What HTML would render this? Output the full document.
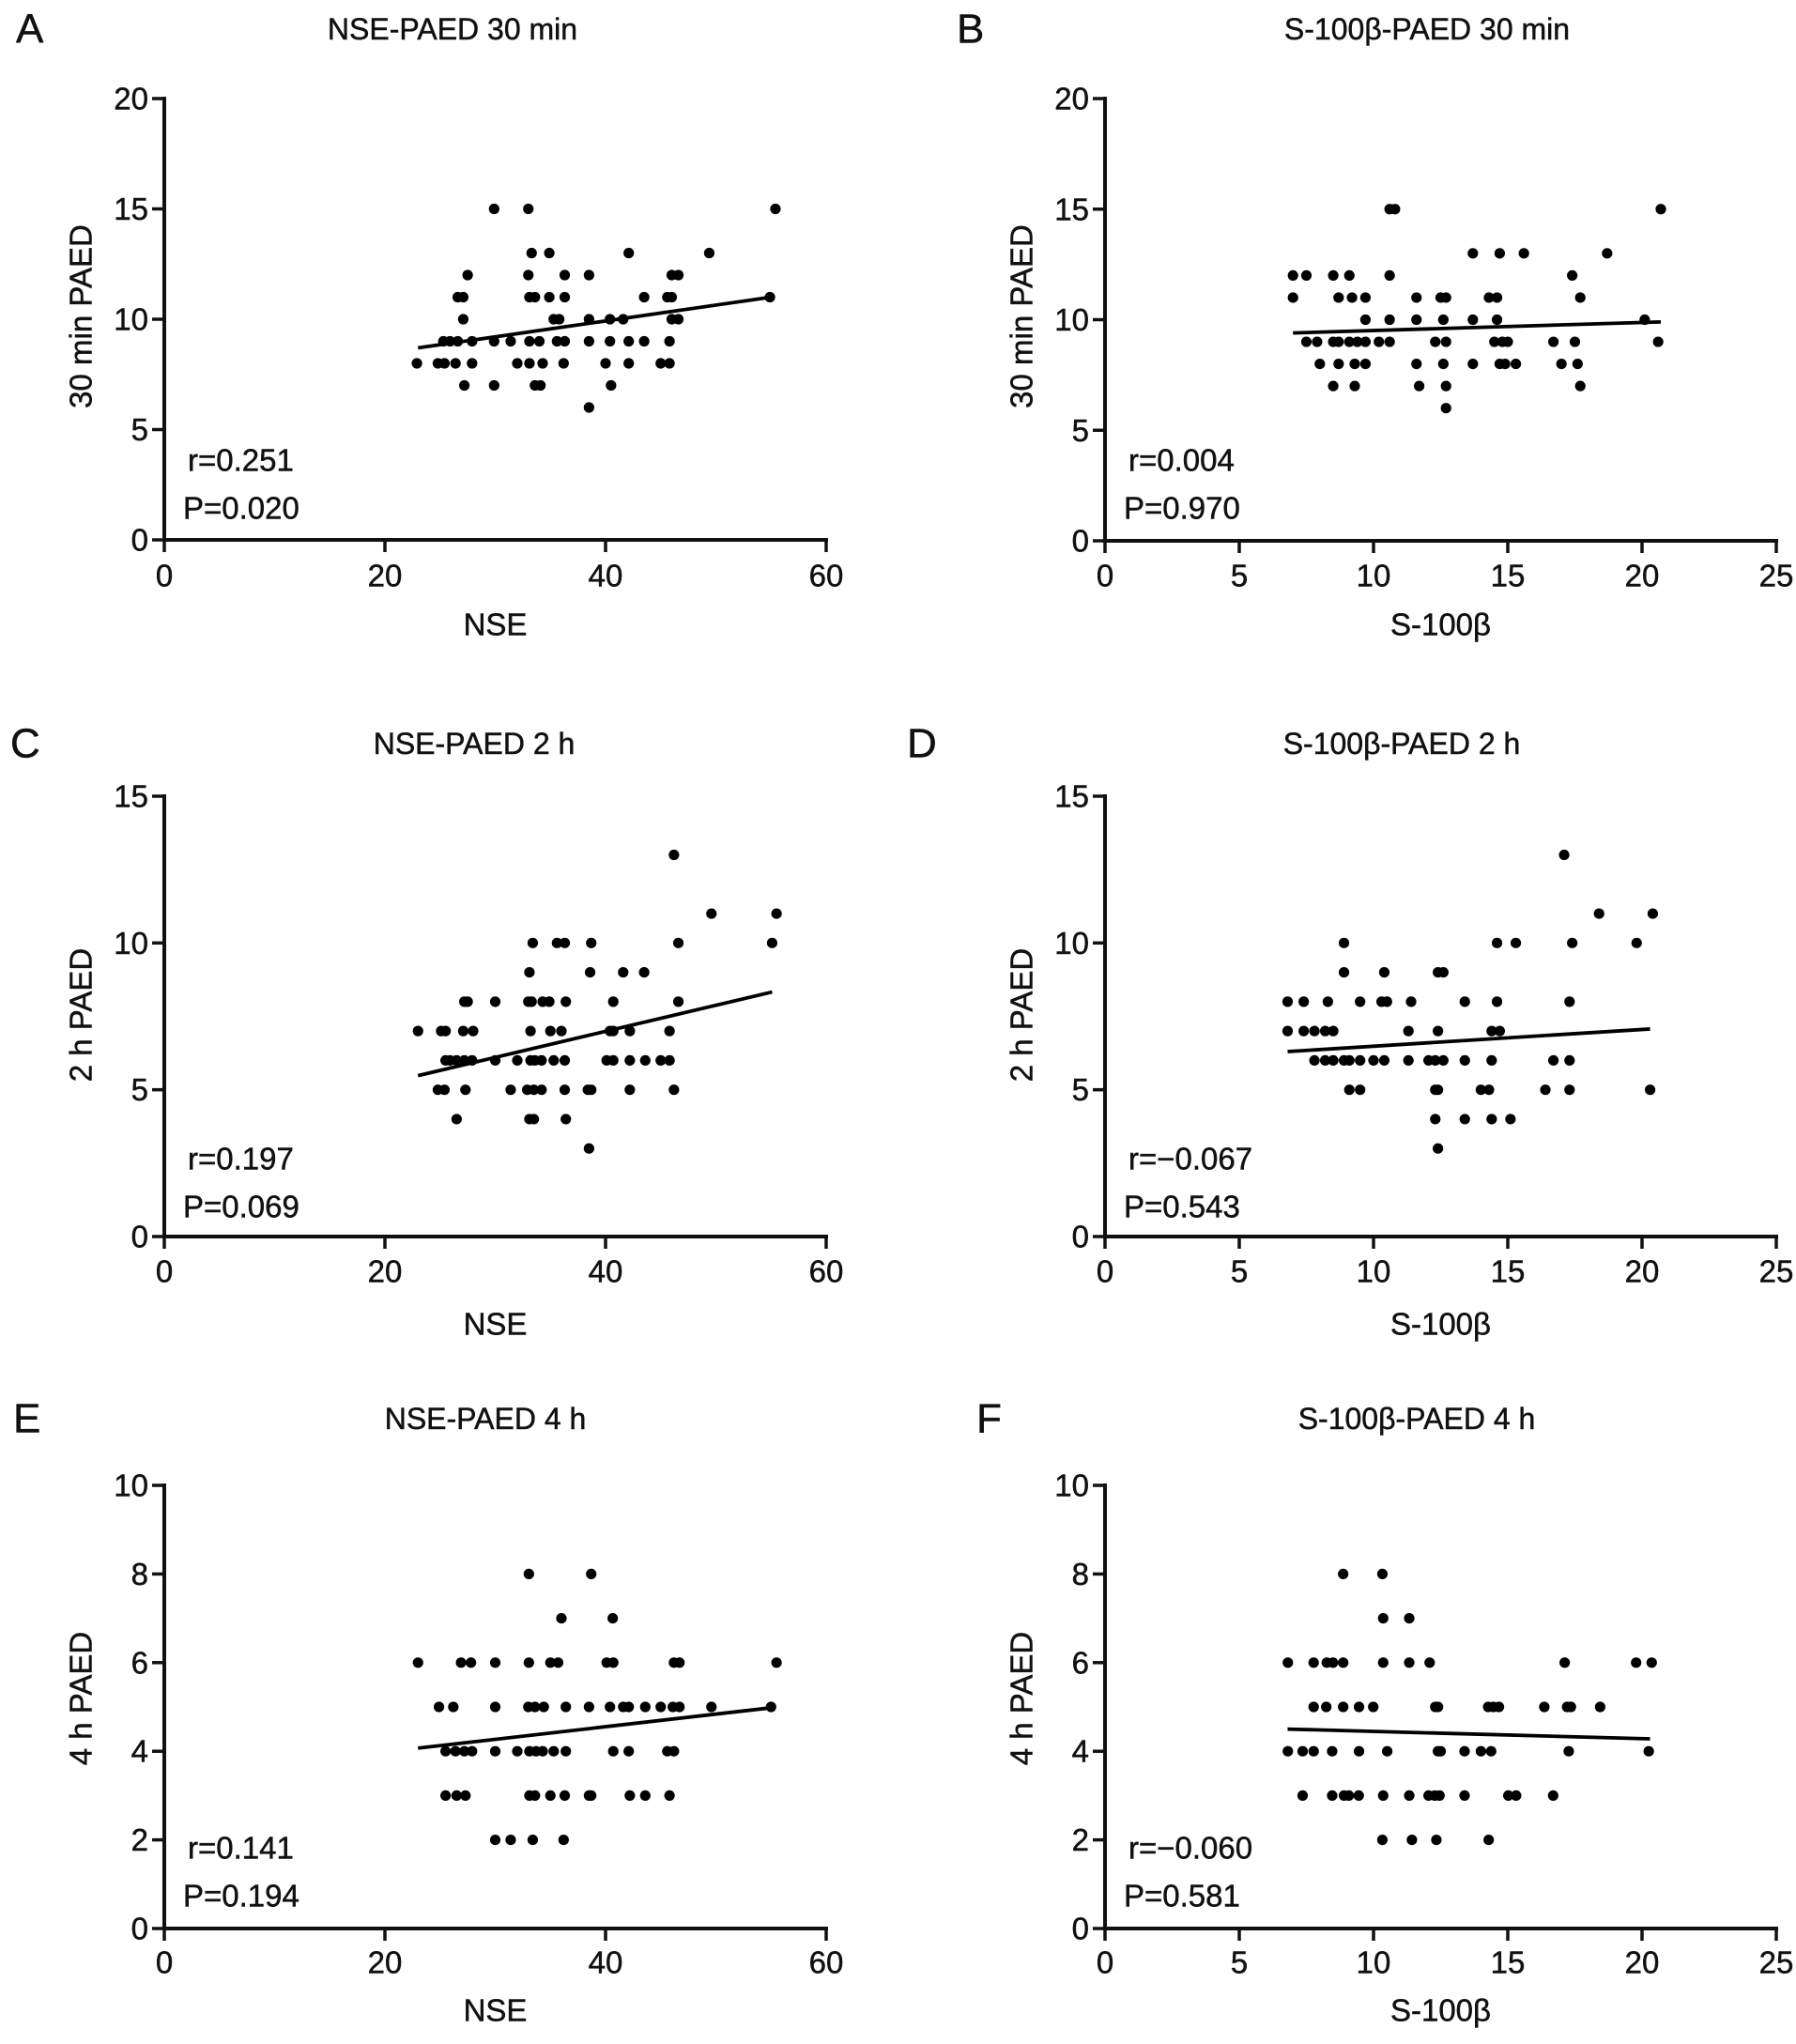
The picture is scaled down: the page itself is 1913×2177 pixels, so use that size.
<!DOCTYPE html>
<html><head><meta charset="utf-8">
<style>
html,body{margin:0;padding:0;background:#fff;}
svg{display:block;}
text{font-family:"Liberation Sans Narrow","Liberation Sans",sans-serif;fill:#111;stroke:#111;stroke-width:0.5;}
</style></head>
<body>
<svg id="fig" width="1913" height="2177" viewBox="0 0 1913 2177" xmlns="http://www.w3.org/2000/svg"></svg>
<script>
// ---- data: panel A (NSE vs 30 min PAED)
const xA=[29.9,33,55.4, 33.3,34.9,42.1,49.4, 27.5,33,36.3,38.5,46,46.6, 26.6,27.1,33.1,33.6,34.9,36.3,43.5,45.6,46,54.9, 27.1,35.3,35.8,38.5,40.4,41.6,46,46.6, 25.3,25.9,26.6,27.9,29.9,31.4,33.1,34,35.6,36.3,38.5,40.4,42.1,43.5,45.8, 22.9,24.8,25.4,26.4,27.9,32,33.1,34.3,36.2,40,42.1,45,45.8, 27.2,29.9,33.6,34.1,40.5, 38.5];
const yA=[15,15,15, 13,13,13,13, 12,12,12,12,12,12, 11,11,11,11,11,11,11,11,11,11, 10,10,10,10,10,10,10,10, 9,9,9,9,9,9,9,9,9,9,9,9,9,9,9, 8,8,8,8,8,8,8,8,8,8,8,8,8, 7,7,7,7,7, 6];
// ---- panel B (S-100β vs 30 min PAED)
const xB=[10.6,10.8,20.7, 13.7,14.7,15.6,18.7, 7.0,7.5,8.5,9.1,10.6,17.4, 7.0,8.7,9.2,9.7,11.6,12.5,12.7,14.3,14.6,17.7, 9.7,10.6,11.6,12.6,13.7,14.6,20.1, 7.5,7.9,8.5,8.7,9.1,9.4,9.7,10.2,10.6,12.3,12.7,14.5,14.8,15.0,16.7,17.5,20.6, 8.0,8.7,9.3,9.7,11.6,12.6,13.7,14.7,14.9,15.3,17.0,17.6, 8.5,9.3,11.7,12.7,17.7, 12.7];
const yB=[15,15,15, 13,13,13,13, 12,12,12,12,12,12, 11,11,11,11,11,11,11,11,11,11, 10,10,10,10,10,10,10, 9,9,9,9,9,9,9,9,9,9,9,9,9,9,9,9,9, 8,8,8,8,8,8,8,8,8,8,8,8, 7,7,7,7,7, 6];
// ---- panel C (NSE vs 2 h PAED)
const xC=[46.2, 49.6,55.5, 33.4,35.6,36.3,38.7,46.6,55.1, 33.1,38.6,41.6,43.5, 27.2,27.5,30,33,33.3,34.3,34.9,36.4,40.7,46.6, 23.0,25.1,25.5,27.1,28,33.2,35,36,40.4,40.7,42.2,45.8, 25.5,25.9,26.5,27.2,27.9,30,32,33.2,33.6,34.2,35.3,36.3,40.1,40.7,42.2,43.6,45,45.8, 24.8,25.4,27.3,31.4,32.9,33.5,34.2,36.3,38.4,38.7,42.2,46.2, 26.5,33.1,33.5,36.4, 38.5];
const yC=[13, 11,11, 10,10,10,10,10,10, 9,9,9,9, 8,8,8,8,8,8,8,8,8,8, 7,7,7,7,7,7,7,7,7,7,7,7, 6,6,6,6,6,6,6,6,6,6,6,6,6,6,6,6,6,6, 5,5,5,5,5,5,5,5,5,5,5,5, 4,4,4,4, 3];
// ---- panel D (S-100β vs 2 h PAED)
const xD=[17.1, 18.4,20.4, 8.9,14.6,15.3,17.4,19.8, 8.9,10.4,12.4,12.6, 6.8,7.4,8.3,9.5,10.3,10.5,11.4,13.4,14.6,17.3, 6.8,7.4,7.8,8.2,8.5,11.3,12.4,14.4,14.7, 7.8,8.2,8.5,8.9,9.1,9.5,10.0,10.4,11.3,12.05,12.3,12.6,13.4,14.4,16.7,17.3, 9.1,9.5,12.3,12.4,14.0,14.3,16.4,17.3,20.3, 12.3,13.4,14.4,15.1, 12.4];
const yD=[13, 11,11, 10,10,10,10,10, 9,9,9,9, 8,8,8,8,8,8,8,8,8,8, 7,7,7,7,7,7,7,7,7, 6,6,6,6,6,6,6,6,6,6,6,6,6,6,6,6, 5,5,5,5,5,5,5,5,5, 4,4,4,4, 3];
// ---- panel E (NSE vs 4 h PAED)
const xE=[33.05,38.7, 36.0,40.65, 23.0,26.9,27.8,30,33.05,35,35.7,40.1,40.7,46.2,46.7,55.5, 24.9,26.2,30,33,33.6,34.4,36.4,38.5,40.4,41.6,42.1,43.6,45,46.1,46.7,49.6,55.0, 25.5,26.4,27.2,27.9,30,32,33.1,33.7,34.3,35.3,36.4,40.7,42.1,45.6,46.2, 25.5,26.5,27.3,33.1,33.6,35,36.3,38.5,38.7,42.2,43.6,45.8, 30,31.4,33.4,36.2];
const yE=[8,8, 7,7, 6,6,6,6,6,6,6,6,6,6,6,6, 5,5,5,5,5,5,5,5,5,5,5,5,5,5,5,5,5, 4,4,4,4,4,4,4,4,4,4,4,4,4,4,4, 3,3,3,3,3,3,3,3,3,3,3,3, 2,2,2,2];
// ---- panel F (S-100β vs 4 h PAED)
const xF=[8.87,10.33, 10.36,11.33, 6.81,7.77,8.26,8.49,8.87,10.36,11.33,12.09,17.12,19.78,20.36, 7.77,8.24,8.87,9.46,9.99,12.3,12.4,14.27,14.46,14.67,16.36,17.21,17.35,18.44, 6.81,7.36,7.77,8.46,9.46,10.51,12.4,12.5,13.39,14.0,14.38,17.27,20.25, 7.36,8.46,8.9,9.08,9.45,10.36,11.33,12.05,12.28,12.46,13.39,15.02,15.31,16.69, 10.33,11.43,12.34,14.29];
const yF=[8,8, 7,7, 6,6,6,6,6,6,6,6,6,6,6, 5,5,5,5,5,5,5,5,5,5,5,5,5,5, 4,4,4,4,4,4,4,4,4,4,4,4,4, 3,3,3,3,3,3,3,3,3,3,3,3,3,3, 2,2,2,2];
// ---- fitted regression lines (as drawn in figure): x start/end, y start/end
const fitX0=[23.0,7.0,23.0,6.8,23.0,6.8];
const fitX1=[55.0,20.7,55.1,20.3,55.0,20.3];
const fitY0=[8.7,9.4,5.48,6.3,4.07,4.5];
const fitY1=[11.0,9.9,8.33,7.07,4.98,4.28];
// ---- tick labels
const xTicksNSE=[0,20,40,60];
const xTicksS100=[0,5,10,15,20,25];
const yTicks30=[0,5,10,15,20];
const yTicks2h=[0,5,10,15];
const yTicks4h=[0,2,4,6,8,10];
const titles=["NSE-PAED 30 min","S-100β-PAED 30 min","NSE-PAED 2 h","S-100β-PAED 2 h","NSE-PAED 4 h","S-100β-PAED 4 h"];
const rTexts=["r=0.251","r=0.004","r=0.197","r=−0.067","r=0.141","r=−0.060"];
const pTexts=["P=0.020","P=0.970","P=0.069","P=0.543","P=0.194","P=0.581"];

const NS="http://www.w3.org/2000/svg";
const svg=document.getElementById('fig');
function mk(tag,attrs,parent){const e=document.createElementNS(NS,tag);for(const k in attrs)e.setAttribute(k,attrs[k]);(parent||svg).appendChild(e);return e;}
function txt(s,x,y,size,anchor,parent){const t=mk('text',{x:x,y:y,'font-size':size,'text-anchor':anchor||'middle','dominant-baseline':'central'},parent);t.textContent=s;return t;}

const panels=[
 {id:'a',letter:'A',xs:xA,ys:yA,xt:xTicksNSE,yt:yTicks30,xl:'NSE',yl:'30 min PAED',L:175,R:880,B:575,T:105,row:0,titleX:482,letterX:17},
 {id:'b',letter:'B',xs:xB,ys:yB,xt:xTicksS100,yt:yTicks30,xl:'S-100β',yl:'30 min PAED',L:1177,R:1892,B:576,T:105,row:0,titleX:1520,letterX:1019},
 {id:'c',letter:'C',xs:xC,ys:yC,xt:xTicksNSE,yt:yTicks2h,xl:'NSE',yl:'2 h PAED',L:175,R:880,B:1317,T:848,row:1,titleX:505,letterX:11},
 {id:'d',letter:'D',xs:xD,ys:yD,xt:xTicksS100,yt:yTicks2h,xl:'S-100β',yl:'2 h PAED',L:1177,R:1892,B:1317,T:848,row:1,titleX:1493,letterX:966},
 {id:'e',letter:'E',xs:xE,ys:yE,xt:xTicksNSE,yt:yTicks4h,xl:'NSE',yl:'4 h PAED',L:175,R:880,B:2054,T:1582,row:2,titleX:517,letterX:14},
 {id:'f',letter:'F',xs:xF,ys:yF,xt:xTicksS100,yt:yTicks4h,xl:'S-100β',yl:'4 h PAED',L:1177,R:1892,B:2054,T:1582,row:2,titleX:1509,letterX:1040}
];
const rowTitleY=[31,792,1511];
const rowTickY=[613,1354,2090];
const rowXLabY=[665,1410,2141];
const rowYLabY=[337,1081,1809];
const rowRY=[490,1234,1968];
const rowPY=[541,1285,2019];

panels.forEach((p,i)=>{
  const g=mk('g',{});
  
  
  const xMax=p.xt[p.xt.length-1], yMax=p.yt[p.yt.length-1];
  const sx=v=>p.L+(v/xMax)*(p.R-p.L);
  const sy=v=>p.B-(v/yMax)*(p.B-p.T);
  const r=p.row;
  const lt=txt(p.letter,p.letterX,rowTitleY[r],44,'start',g);
  
  
  const tt=txt(titles[i],p.titleX,rowTitleY[r],32,'middle',g);
  
  
  const ax=mk('path',{d:`M${p.L} ${p.T-2} L${p.L} ${p.B} L${p.R+2} ${p.B}`,fill:'none',stroke:'#111','stroke-width':4},g);
  
  
  p.xt.forEach(v=>{
    const x=sx(v);
    mk('line',{x1:x,y1:p.B,x2:x,y2:p.B+13,stroke:'#111','stroke-width':3.5},g);
    const t=txt(String(v),x,rowTickY[r],33,'middle',g);
    
    
  });
  p.yt.forEach(v=>{
    const y=sy(v);
    mk('line',{x1:p.L-13,y1:y,x2:p.L,y2:y,stroke:'#111','stroke-width':3.5},g);
    const t=txt(String(v),p.L-17,y,33,'end',g);
    
    
  });
  const xl=txt(p.xl,(p.L+p.R)/2,rowXLabY[r],33,'middle',g);
  
  
  const yx=p.L-89;
  const yl=txt(p.yl,yx,rowYLabY[r],33,'middle',g);
  yl.setAttribute('transform',`rotate(-90 ${yx} ${rowYLabY[r]})`);
  
  
  const rt=txt(rTexts[i],p.L+25,rowRY[r],33,'start',g);
  
  
  const pt=txt(pTexts[i],p.L+20,rowPY[r],33,'start',g);
  
  
  p.xs.forEach((xv,k)=>{
    const c=mk('circle',{cx:sx(xv),cy:sy(p.ys[k]),r:5.6,fill:'#000'},g);
    
    
  });
  const ln=mk('line',{x1:sx(fitX0[i]),y1:sy(fitY0[i]),x2:sx(fitX1[i]),y2:sy(fitY1[i]),stroke:'#000','stroke-width':3.8},g);
  
  
});
</script>
</body></html>
